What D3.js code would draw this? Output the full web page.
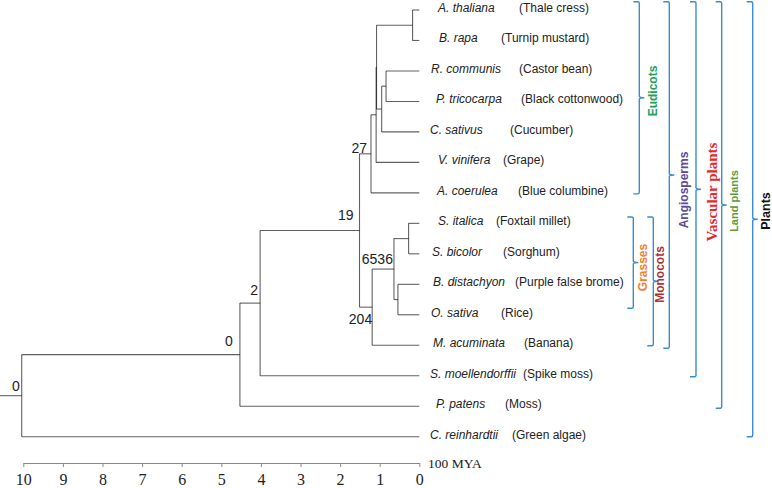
<!DOCTYPE html>
<html><head><meta charset="utf-8">
<script src="https://cdn.jsdelivr.net/npm/d3@7"></script>
<style>body{margin:0;background:#fff}svg{display:block}</style>
</head><body><svg id="c" width="772" height="488"></svg>
<script>
// ---------- data ----------
const taxa = ["A. thaliana","B. rapa","R. communis","P. tricocarpa","C. sativus","V. vinifera","A. coerulea",
  "S. italica","S. bicolor","B. distachyon","O. sativa","M. acuminata","S. moellendorffii","P. patens","C. reinhardtii"];
const commonNames = ["Thale cress","Turnip mustard","Castor bean","Black cottonwood","Cucumber","Grape","Blue columbine",
  "Foxtail millet","Sorghum","Purple false brome","Rice","Banana","Spike moss","Moss","Green algae"];
const taxonParents = ["AB","AB","RP","RP","RPC","EUV","EUD","SS","SS","BO","BO","MONO","VASC","LAND","ROOT"];
const nodeIds     = ["AB","RP","RPC","ABRPC","EUV","EUD","SS","BO","GRASS","MONO","ANGIO","VASC","LAND","ROOT"];
const nodeParents = ["ABRPC","RPC","ABRPC","EUV","EUD","ANGIO","GRASS","GRASS","MONO","ANGIO","VASC","LAND","ROOT",""];
const nodeAges    = [0.17, 0.84, 0.95, 1.08, 1.09, 1.22, 0.27, 0.54, 0.64, 1.19, 1.51, 4.02, 4.53, 10.04];
const nodeLabels  = ["","","","","","27","","","6536","204","19","2","0","0"];
const axisTicks = [10,9,8,7,6,5,4,3,2,1,0];
const axisUnit = "100 MYA";
const cladeNames = ["Eudicots","Grasses","Monocots","Angiosperms","Vascular plants","Land plants","Plants"];
const cladeFirst = ["A. thaliana","S. italica","S. italica","A. thaliana","A. thaliana","A. thaliana","A. thaliana"];
const cladeLast  = ["A. coerulea","O. sativa","M. acuminata","M. acuminata","S. moellendorffii","P. patens","C. reinhardtii"];

// ---------- layout / style ----------
const nameX   = [438,439,431,436,430,438,437,438,432,433,431,433,430,436,430];
const commonX = [519,501,519,521,510,503,518,496,503,515,501,524,523,505,512];
const labelOff = {EUD:[-4,-6], GRASS:[-1,-10], MONO:[0,12], ANGIO:[-6,-15.5], VASC:[-2,-13], LAND:[-7,-14], ROOT:[-2,-10]};
const cladeStyle = [
  {bx:639.3, t:-8.3, b:1,   tx:652.7, ty:91,  color:"#22a05a", font:"bold 12px 'Liberation Sans', Arial, sans-serif"},
  {bx:633.3, t:-6.4, b:-6.5,tx:642.7, ty:267.5,color:"#f07f2e", font:"bold 12px 'Liberation Sans', Arial, sans-serif"},
  {bx:653.3, t:-6.4, b:0.5, tx:660,   ty:274.5,color:"#a83434", font:"bold 12px 'Liberation Sans', Arial, sans-serif"},
  {bx:669.3, t:-8.3, b:3,   tx:684,   ty:190, color:"#5b4c99", font:"bold 12px 'Liberation Sans', Arial, sans-serif"},
  {bx:696,   t:-8.3, b:1,   tx:711.7, ty:192, color:"#e12a2a", font:"bold 15px 'Liberation Serif', 'Times New Roman', serif"},
  {bx:721.7, t:-8.3, b:2,   tx:734,   ty:201, color:"#5a9c3c", font:"bold 11px 'Liberation Sans', Arial, sans-serif"},
  {bx:752.7, t:-8.3, b:0,   tx:766,   ty:211, color:"#111111", font:"bold 12.5px 'Liberation Sans', Arial, sans-serif"}
];
const bracketColor = "#3a8dd3";

const svg = d3.select("#c");
svg.append("rect").attr("width",772).attr("height",488).attr("fill","#fff");

const x = d3.scaleLinear().domain([10,0]).range([23.3,419.3]);
const y = d3.scalePoint().domain(taxa).range([10,436.7]);

const rows = taxa.map((t,i)=>({id:t, parentId:taxonParents[i], age:0, label:""}))
  .concat(nodeIds.map((n,i)=>({id:n, parentId:nodeParents[i], age:nodeAges[i], label:nodeLabels[i]})));
const root = d3.stratify().id(d=>d.id).parentId(d=>d.parentId)(rows);
root.eachAfter(n=>{
  if (n.children) {
    const ys = n.children.map(c=>c.py);
    n.py = (d3.min(ys)+d3.max(ys))/2;
  } else n.py = y(n.id);
  n.px = x(n.data.age);
});

const g = svg.append("g").attr("stroke","#000").attr("stroke-opacity",0.62).attr("stroke-width",1.1).attr("fill","none");
root.each(n=>{
  if (n.children) {
    const ys = n.children.map(c=>c.py);
    g.append("line").attr("x1",n.px).attr("x2",n.px).attr("y1",d3.min(ys)).attr("y2",d3.max(ys));
    n.children.forEach(c=>{
      g.append("line").attr("x1",n.px).attr("x2",c.px).attr("y1",c.py).attr("y2",c.py);
    });
  }
});
g.append("line").attr("x1",0).attr("x2",root.px).attr("y1",root.py).attr("y2",root.py);

// node labels
root.each(n=>{
  if (n.data.label) {
    const o = labelOff[n.id] || [-2,-8];
    svg.append("text").attr("x",n.px+o[0]).attr("y",n.py+o[1])
      .attr("text-anchor","end").attr("dominant-baseline","central")
      .style("font","14px 'Liberation Sans', Arial, sans-serif").attr("fill","#222").text(n.data.label);
  }
});

// leaf labels
taxa.forEach((t,i)=>{
  svg.append("text").attr("x",nameX[i]).attr("y",y(t)+2)
    .style("font","italic 12px 'Liberation Sans', Arial, sans-serif").attr("fill","#222").text(t);
  svg.append("text").attr("x",commonX[i]).attr("y",y(t)+2)
    .style("font","12px 'Liberation Sans', Arial, sans-serif").attr("fill","#222").text("("+commonNames[i]+")");
});

// axis
const ax = svg.append("g").attr("transform","translate(0,463)")
  .call(d3.axisBottom(x).tickValues(axisTicks).tickFormat(d3.format("d")).tickSize(4).tickSizeOuter(0).tickPadding(7));
ax.selectAll("path,line").attr("stroke","#888");
ax.selectAll("text").style("font","16px 'Liberation Serif', 'Times New Roman', serif").attr("fill","#222");
svg.append("text").attr("x",428).attr("y",468)
  .style("font","13.5px 'Liberation Serif', 'Times New Roman', serif").attr("fill","#222").text(axisUnit);

// clade brackets
cladeNames.forEach((name,i)=>{
  const s = cladeStyle[i];
  const top = y(cladeFirst[i]) + s.t, bot = y(cladeLast[i]) + s.b, mid = (top+bot)/2;
  const p = d3.path();
  p.moveTo(s.bx-6, top); p.lineTo(s.bx-1.5, top); p.quadraticCurveTo(s.bx, top, s.bx, top+1.5);
  p.lineTo(s.bx, mid-1.5); p.quadraticCurveTo(s.bx, mid, s.bx+5, mid);
  p.moveTo(s.bx, mid+1.5); p.quadraticCurveTo(s.bx, mid, s.bx+5, mid);
  p.moveTo(s.bx, mid+1.5); p.lineTo(s.bx, bot-1.5); p.quadraticCurveTo(s.bx, bot, s.bx-1.5, bot); p.lineTo(s.bx-6, bot);
  svg.append("path").attr("d",p.toString()).attr("fill","none").attr("stroke",bracketColor).attr("stroke-width",1.4);
  svg.append("text").attr("transform",`translate(${s.tx},${s.ty}) rotate(-90)`)
    .attr("text-anchor","middle").attr("dominant-baseline","central")
    .style("font",s.font).attr("fill",s.color).text(name);
});
</script></body></html>
